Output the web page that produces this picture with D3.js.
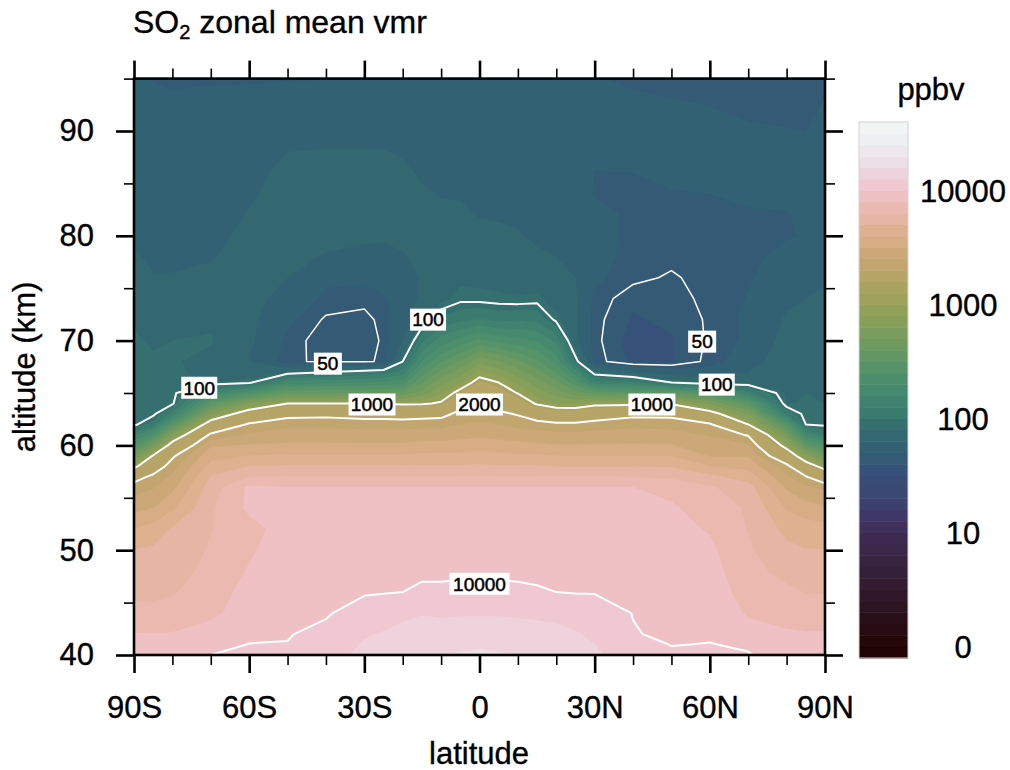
<!DOCTYPE html>
<html><head><meta charset="utf-8">
<script src="https://cdn.jsdelivr.net/npm/d3@7"></script>
<style>
html,body{margin:0;padding:0;background:#fff}
svg{display:block}
text{font-family:"Liberation Sans",Arial,sans-serif;fill:#000;stroke:#000;stroke-width:0.35}
</style></head><body>
<svg id="chart" width="1010" height="770"></svg>
<script>
const chartTitle = "SO";
const xTitle = "latitude";
const yTitle = "altitude (km)";
const unitLabel = "ppbv";
const xMajorTicks = [-90,-60,-30,0,30,60,90];
const xMajorLabels = ["90S","60S","30S","0","30N","60N","90N"];
const xMinorTicks = [-80,-70,-50,-40,-20,-10,10,20,40,50,70,80];
const yMajorTicks = [40,50,60,70,80,90];
const yMinorTicks = [45,55,65,75,85,95];
const lineLevels = [50,100,1000,2000,10000];

// altitude of each value in a latitude column (km)
const alts = [40,41,42,44,46,48,50,52,54,56,57,58,59,60,61,62,63,64,65,66,67,68,70,72,74,76,78,80,82,84,86,88,90,92,95];
const lats = [-90,-85,-80,-70,-60,-50,-40,-30,-25,-20,-15,-10,-5,0,5,10,15,20,25,30,40,50,60,70,80,85,90];

// SO2 vmr in ppbv, one list per latitude, bottom to top
const vmrS90 = [9000,8500,8000,6800,6000,5500,5050,4000,2950,2250,1750,890,500,280,160,95,94,93,92,91,91,90,90,88,84,78,73,68,66,65,64,63,62,61,60];
const vmrS85 = [9000,8500,8000,6700,5950,5600,5200,4400,3160,2450,2150,1610,1040,524,255,124,95,93,92,91,90,90,88,84,78,72,68,66,65,64,63,63,62,60,55.5];
const vmrS80 = [8900,8500,8050,6900,6200,5800,5500,5150,3850,2950,2600,2300,1900,1230,680,316,147,96,94,92,91,90,89,86,80,72,68,66,65,64,64,63,62,58,55];
const vmrS70 = [10000,9400,8800,7500,7000,6700,6450,6250,6100,5600,5100,4300,3700,3050,2150,1300,667,340,173,88,86,86,90,87,79,74,70,67,65,64,63,62,60,58,55.5];
const vmrS60 = [10400,10050,9600,9000,8700,8100,7700,7300,8300,8300,6300,5000,4000,3200,2600,2100,1330,650,250,95,80,71,74,76,78,78,77,75,72,69,66,63,60,58,55.6];
const vmrS50 = [10500,10050,9900,9600,9400,9200,9000,8800,8500,7950,6400,5100,4100,3300,2800,2350,1800,1000,400,190,88,51,54,58,64,71,75,78,78,78,76,71,66,59,55.8];
const vmrS40 = [11200,10900,10500,9800,9600,9400,9200,9000,8700,7950,6400,5100,4100,3300,2800,2350,1850,1000,400,200,99,49,46,49,54,58,70,75,76,76,75,72,66,58.5,55.9];
const vmrS30 = [13500,12900,12300,11000,9800,9500,9300,9100,8800,7950,6400,5100,4100,3300,2750,2300,1750,1000,410,210,110,49,47,48,52,58,68,73,76,77,76,72,66,58.5,56];
const vmrS25 = [14200,13600,12800,11300,9900,9600,9400,9200,8900,7950,6400,5100,4100,3300,2750,2300,1750,970,415,225,118,51,51,52,55,60,67,73,76,77,76,72,66,61,57];
const vmrS20 = [15000,14400,13400,12000,10000,9700,9500,9300,9000,7950,6400,5100,4100,3300,2750,2300,1700,950,420,240,150,100,70,64,60,62,70,74,76,77,76,69,64,60,57];
const vmrS15 = [15500,15000,14000,12400,10200,9800,9600,9400,9100,7950,6400,5100,4200,3400,2800,2350,1750,950,560,400,300,215,130,85,75,73,74,76,78,74,68,62,60,59,57];
const vmrS10 = [15800,15300,14600,12000,10200,9800,9600,9400,9200,7950,6400,5100,4200,3450,2800,2350,1800,1050,780,590,430,320,190,118,84,80,78,77,75,70,66,63,61,60,58];
const vmrS05 = [16000,15500,14800,12200,10300,9800,9600,9400,9200,7950,6400,5100,4200,3500,2900,2500,2200,1700,1150,780,560,420,230,130,95,85,80,76,73,70,67,64,62,60,58];
const vmrEq  = [16200,15600,14900,12200,10300,9800,9600,9400,9200,7950,6400,5200,4300,3600,3000,2600,2300,2000,1600,1180,850,600,280,140,94,84,78,74,70.5,67,65,63,62,60,58];
const vmrN05 = [16000,15500,14800,12200,10300,9800,9600,9400,9200,7950,6400,5100,4200,3500,2900,2500,2150,1650,1300,1000,720,520,250,130,92,83,77,73,70,67,65,63,62,60,58];
const vmrN10 = [15800,15300,14600,12000,10200,9800,9600,9400,9200,7950,6400,5100,4100,3400,2800,2350,1950,1350,980,760,560,430,230,135,90,82,76,72,69,66,64,62,61,59,58];
const vmrN15 = [15500,15000,14200,11800,10100,9800,9600,9400,9100,7950,6400,5100,4100,3300,2750,2250,1600,950,720,560,440,340,210,130,93,78,73,69,66,63,62,61,60,59,58];
const vmrN20 = [15000,14500,13500,11800,10000,9700,9500,9300,9000,7950,6400,5000,4000,3200,2650,2150,1400,800,580,430,320,250,160,95,80,75,71,67,63,62,61,60,60,59,58];
const vmrN25 = [14000,13400,12800,11400,9900,9600,9400,9200,8900,7950,6400,5000,4000,3200,2650,2150,1400,770,450,290,190,110,74,74,73,71,66,64,63,62,61,60,59,58,57];
const vmrN30 = [13200,12600,12100,11000,9900,9600,9400,9200,8900,7950,6400,5000,4000,3200,2700,2250,1600,900,370,150,88,53,52,52,54,58,60,60,60,55.5,55.8,58,59,58,56.2];
const vmrN40 = [10800,10700,10100,9950,9300,9100,8900,8700,8500,7950,6300,5000,4000,3250,2800,2350,1850,900,340,145,72,44,42,44.5,46,52,53,54,54,55,56,58,60,57,55.5];
const vmrN50 = [10300,9950,9700,9400,9200,9000,8800,8500,8200,7400,6100,4900,3950,3200,2750,2300,1850,950,360,100,62,44.5,44.5,46,48,49,52,54,55,55.5,58,60,61,57,54.5];
const vmrN60 = [10500,10050,9800,9500,9000,8700,8300,7800,7100,6500,5300,4000,3100,2800,2450,2100,1200,620,280,85,60,52,51,51,51.5,53,54,55,55.5,56,58,60,59,56.3,54];
const vmrN70 = [10100,9800,8800,7700,7200,6800,6500,6250,6150,5500,4500,3700,3100,2600,1950,1000,620,340,150,88,71,63,58,58,56.5,55,54.5,55,55.5,57,58,57,57,55,53];
const vmrN80 = [9300,8900,8200,7200,6600,5900,5300,4700,3900,3050,2600,2200,1400,850,530,300,130,88,86,85,84,83,77,73,68,62,58,55.5,55.8,57,57,57,56.5,54,52];
const vmrN85 = [9200,8700,8100,7000,6250,5600,5050,4500,3500,2600,2050,1300,720,373,193,100,92,90,89,88,87,86,82,76,71,64,59,56.5,57,57.5,58,58,56,54,53];
const vmrN90 = [9100,8600,8100,6900,6250,5600,5050,4300,3300,2400,1500,840,500,260,135,96,90,89,88,87,86,85,81,78,74,69,62,57,57,56,58,58.5,57.5,57,55];
const columns = [vmrS90,vmrS85,vmrS80,vmrS70,vmrS60,vmrS50,vmrS40,vmrS30,vmrS25,vmrS20,vmrS15,vmrS10,vmrS05,vmrEq,vmrN05,vmrN10,vmrN15,vmrN20,vmrN25,vmrN30,vmrN40,vmrN50,vmrN60,vmrN70,vmrN80,vmrN85,vmrN90];

// lower edges (ppbv) of colour bands 1..46; band 0 sits below the first
const bandEdges = [1.1,1.4,1.8,2.2,2.8,3.5,4.4,5.5,7,8.8,11,14,18,22,28,36,45,56,71,89,112,138,170,215,265,330,410,510,640,800,1000,1060,1130,2000,2510,3160,3980,5010,6310,7940,10000,12590,15850,19950,25120,31620];
const bandColors = ["#1f0305","#230709","#260b12","#291018","#2c1420","#301828","#331c30","#35203a","#37233e","#3b2747","#3e2a50","#40305c","#3f3868","#3d406e","#3a4873","#384c76","#365279","#345a76","#326174","#346871","#356f6f","#3a7b70","#3f8270","#45896f","#4d8f6c","#569369","#609764","#6e9a5f","#7a9c5c","#869f59","#93a059","#9fa25a","#aaa35f","#b7a467","#c2a56f","#cca878","#d6ad84","#deb191","#e6b5a3","#ebb9b0","#efc1c4","#f0c8d1","#efd3dc","#ecdfe5","#eee7ec","#eff0f3","#f1f5f4"];
// colour-bar labels and the band edge each one sits on
const barLabels = ["0","10","100","1000","10000"];
const barLabelEdges = [1,11,21,31,41];

// contour labels: text and the latitude / altitude it sits on
const contourLabelText = ["100","100","50","1000","2000","1000","100","50","10000"];
const contourLabelLat  = [-73,-13.4,-39.5,-28,0,44.9,61.8,58,0];
const contourLabelAlt  = [65.5,72,67.8,63.9,63.9,63.9,65.8,69.9,46.8];

columns.forEach((c,i)=>{ if(c.length!==alts.length) throw new Error("column "+i+" has "+c.length); });

const svg = d3.select("#chart");
const x = d3.scaleLinear().domain([-90,90]).range([134,825]);
const y = d3.scaleLinear().domain([40,95]).range([655,78.6]);
const latOfIndex = d3.scaleLinear().domain(d3.range(lats.length)).range(lats).clamp(true);
const altOfIndex = d3.scaleLinear().domain(d3.range(alts.length)).range(alts).clamp(true);

const grid = [];
alts.forEach((_,j)=>columns.forEach(col=>grid.push(Math.log10(col[j]))));
const contourGen = d3.contours().size([lats.length,alts.length]);
const proj = d3.geoTransform({point(px,py){ this.stream.point(x(latOfIndex(px-0.5)), y(altOfIndex(py-0.5))); }});
const path = d3.geoPath(proj);

svg.append("defs").append("clipPath").attr("id","plot").append("rect")
  .attr("x",x(-90)).attr("y",y(95)).attr("width",x(90)-x(-90)).attr("height",y(40)-y(95));

const plot = svg.append("g").attr("clip-path","url(#plot)");
plot.append("rect").attr("x",x(-90)).attr("y",y(95)).attr("width",x(90)-x(-90)).attr("height",y(40)-y(95))
  .attr("fill",bandColors[d3.bisectRight(bandEdges,d3.min(grid.map(v=>Math.pow(10,v))))]);
bandEdges.forEach((edge,i)=>{
  const geo = contourGen.contour(grid,Math.log10(edge));
  if(geo.coordinates.length) plot.append("path").attr("d",path(geo)).attr("fill",bandColors[i+1]).attr("stroke",bandColors[i+1]).attr("stroke-width",0.4);
});
lineLevels.forEach(level=>{
  plot.append("path").attr("d",path(contourGen.contour(grid,Math.log10(level))))
    .attr("fill","none").attr("stroke","#fff").attr("stroke-width",level===50?1.5:2).attr("stroke-linejoin","round");
});

// contour labels
contourLabelText.forEach((t,i)=>{
  const cx=x(contourLabelLat[i]), cy=y(contourLabelAlt[i]);
  const w={2:28,3:36,4:47,5:60}[t.length], h=22;
  svg.append("rect").attr("x",cx-w/2).attr("y",cy-h/2).attr("width",w).attr("height",h).attr("fill","#fff");
  svg.append("text").attr("x",cx).attr("y",cy).attr("dy",".36em").attr("text-anchor","middle")
    .attr("font-size",19).style("stroke-width",0.5).text(t);
});

// frame and axes
svg.append("rect").attr("x",x(-90)).attr("y",y(95)).attr("width",x(90)-x(-90)).attr("height",y(40)-y(95))
  .attr("fill","none").attr("stroke","#000").attr("stroke-width",2.6);

function drawAxis(axis,tx,ty){
  const g = svg.append("g").attr("transform",`translate(${tx},${ty})`).call(axis);
  g.select(".domain").remove();
  g.selectAll("line").attr("stroke","#000");
  g.selectAll("text").attr("font-size",31).attr("font-family",'"Liberation Sans",Arial,sans-serif').attr("fill","#000");
  return g;
}
const fmtLat = d=>xMajorLabels[xMajorTicks.indexOf(d)];
const noLabel = ()=>"";
drawAxis(d3.axisBottom(x).tickValues(xMajorTicks).tickFormat(fmtLat).tickSize(18).tickPadding(23),0,y(40)).selectAll("line").attr("stroke-width",2.6);
drawAxis(d3.axisBottom(x).tickValues(xMinorTicks).tickFormat(noLabel).tickSize(10),0,y(40)).selectAll("line").attr("stroke-width",1.6);
drawAxis(d3.axisTop(x).tickValues(xMajorTicks).tickFormat(noLabel).tickSize(18),0,y(95)).selectAll("line").attr("stroke-width",2.6);
drawAxis(d3.axisTop(x).tickValues(xMinorTicks).tickFormat(noLabel).tickSize(10),0,y(95)).selectAll("line").attr("stroke-width",1.6);
drawAxis(d3.axisLeft(y).tickValues(yMajorTicks).tickFormat(d3.format("d")).tickSize(18).tickPadding(22),x(-90),0).selectAll("line").attr("stroke-width",2.6);
drawAxis(d3.axisLeft(y).tickValues(yMinorTicks).tickFormat(noLabel).tickSize(10),x(-90),0).selectAll("line").attr("stroke-width",1.6);
drawAxis(d3.axisRight(y).tickValues(yMajorTicks).tickFormat(noLabel).tickSize(18),x(90),0).selectAll("line").attr("stroke-width",2.6);
drawAxis(d3.axisRight(y).tickValues(yMinorTicks).tickFormat(noLabel).tickSize(10),x(90),0).selectAll("line").attr("stroke-width",1.6);

// titles
const title = svg.append("text").attr("x",133).attr("y",33).attr("font-size",32);
title.append("tspan").text(chartTitle);
title.append("tspan").attr("font-size",20).attr("dy",6).text("2");
title.append("tspan").attr("dy",-6).text(" zonal mean vmr");
svg.append("text").attr("x",479).attr("y",764).attr("text-anchor","middle").attr("font-size",31).text(xTitle);
svg.append("text").attr("transform","translate(35,367) rotate(-90)").attr("text-anchor","middle").attr("font-size",31).text(yTitle);

// colour bar
const barY = d3.scaleLinear().domain([0,bandColors.length]).range([658,122]);
svg.append("g").selectAll("rect").data(bandColors).join("rect")
  .attr("x",859).attr("width",49).attr("y",(d,i)=>barY(i+1)).attr("height",(d,i)=>barY(i)-barY(i+1)+0.5).attr("fill",d=>d);
svg.append("rect").attr("x",859).attr("y",122).attr("width",49).attr("height",536).attr("fill","none").attr("stroke","#d4d4d4").attr("stroke-width",1);
barLabels.forEach((t,i)=>{
  svg.append("text").attr("x",963).attr("y",barY(barLabelEdges[i])).attr("dy",".36em").attr("text-anchor","middle").attr("font-size",31).text(t);
});
svg.append("text").attr("x",931).attr("y",100).attr("text-anchor","middle").attr("font-size",31).text(unitLabel);
</script>
</body></html>
